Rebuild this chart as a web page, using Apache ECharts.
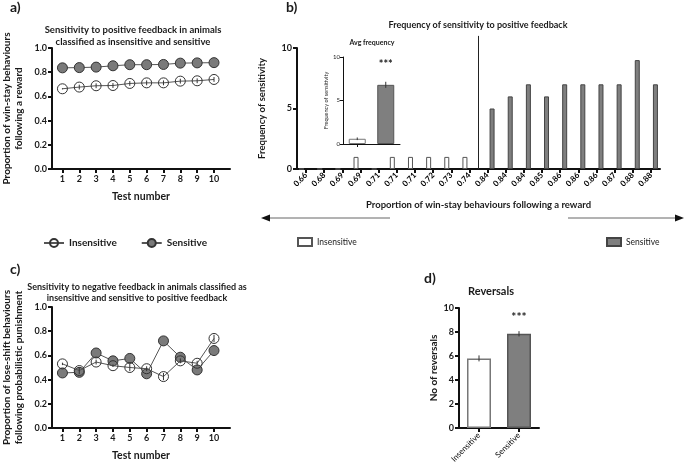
<!DOCTYPE html>
<html>
<head>
<meta charset="utf-8">
<script src="https://cdn.jsdelivr.net/npm/echarts@6/dist/echarts.min.js"></script>
<style>
html, body { margin: 0; padding: 0; background: #fff; }
#main { width: 685px; height: 469px; }
</style>
</head>
<body>
<div id="main"></div>
<script>
// panel a / c : per test session
const testNums = [1, 2, 3, 4, 5, 6, 7, 8, 9, 10]
const winStayInsens = [0.663, 0.677, 0.688, 0.69, 0.707, 0.712, 0.712, 0.726, 0.729, 0.74]
const winStaySens = [0.836, 0.838, 0.842, 0.853, 0.862, 0.862, 0.864, 0.875, 0.877, 0.879]
const winStayInsensErr = [0.005, 0.02, 0.02, 0.02, 0.02, 0.02, 0.02, 0.02, 0.02, 0.02]
const loseShiftInsens = [0.53, 0.475, 0.545, 0.515, 0.5, 0.49, 0.425, 0.555, 0.535, 0.74]
const loseShiftSens = [0.455, 0.46, 0.62, 0.555, 0.575, 0.448, 0.72, 0.585, 0.48, 0.64]
const loseShiftInsensErr = [0.01, 0.03, 0.02, 0.01, 0.03, 0.02, 0.03, 0.02, 0.02, 0.03]

// panel b : histogram
const histLabels = ['0.66', '0.68', '0.69', '0.69', '0.71', '0.71', '0.71', '0.72', '0.73', '0.74',
    '0.84', '0.84', '0.84', '0.85', '0.86', '0.86', '0.86', '0.87', '0.88', '0.88']
const histInsens = [0, 0, 0, 1, 0, 1, 1, 1, 1, 1]
const histSens = [5, 6, 7, 6, 7, 7, 7, 7, 9, 7]
const groupNames = ['Insensitive', 'Sensitive']
const avgFreq = [0.6, 6.8]
const avgFreqErr = [0.15, 0.35]

// panel d
const reversals = [5.8, 7.85]
const reversalsErr = [0.25, 0.22]

const FONT = 'Lato'
const INK = '#1a1a1a'

function errBar(params, api) {
    const x = api.value(0), y = api.value(1), e = api.value(2)
    const p1 = api.coord([x, y - e])
    const p2 = api.coord([x, y + e])
    return {
        type: 'line',
        shape: { x1: p1[0], y1: p1[1], x2: p2[0], y2: p2[1] },
        style: { stroke: '#333', lineWidth: 1 }
    }
}

function axisBase(extra) {
    return Object.assign({
        axisLine: { show: true, lineStyle: { color: '#111', width: 2 } },
        axisTick: { show: true, length: 4, lineStyle: { color: '#111', width: 2 } },
        splitLine: { show: false },
        axisLabel: { color: INK, fontFamily: FONT, fontWeight: 'bold', fontSize: 9, margin: 5 },
        nameTextStyle: { color: INK, fontFamily: FONT, fontWeight: 'bold', fontSize: 10.5 }
    }, extra)
}

const chart = echarts.init(document.getElementById('main'))

const lineSeries = (name, xi, vals, hollow) => ({
    name: name,
    type: 'line',
    xAxisIndex: xi, yAxisIndex: xi,
    data: testNums.map((t, i) => [t, vals[i]]),
    symbol: 'circle',
    symbolSize: 10,
    lineStyle: { color: '#555', width: 1 },
    itemStyle: hollow
        ? { color: 'rgba(255,255,255,0)', borderColor: '#333', borderWidth: 1 }
        : { color: '#7a7a7a', borderColor: '#333', borderWidth: 1 },
    z: hollow ? 3 : 2
})

chart.setOption({
    backgroundColor: '#fff',
    animation: false,
    textStyle: { fontFamily: FONT },
    title: [
        { text: 'a)', left: 10, top: 0, padding: 0, textStyle: { fontSize: 14, fontWeight: 'bold', color: INK, fontFamily: FONT } },
        { text: 'Sensitivity to positive feedback in animals\nclassified as insensitive and sensitive', left: 133, top: 24, padding: 0, textAlign: 'center',
            textStyle: { fontSize: 9.5, fontWeight: 'bold', lineHeight: 12, color: INK, fontFamily: FONT } },
        { text: 'b)', left: 286, top: 0, padding: 0, textStyle: { fontSize: 14, fontWeight: 'bold', color: INK, fontFamily: FONT } },
        { text: 'Frequency of sensitivity to positive feedback', left: 478, top: 21, padding: 0, textAlign: 'center',
            textStyle: { fontSize: 9, fontWeight: 'bold', color: INK, fontFamily: FONT } },
        { text: 'Avg frequency', left: 372, top: 39, padding: 0, textAlign: 'center',
            textStyle: { fontSize: 7, fontWeight: 'bold', color: INK, fontFamily: FONT } },
        { text: 'c)', left: 10, top: 262, padding: 0, textStyle: { fontSize: 14, fontWeight: 'bold', color: INK, fontFamily: FONT } },
        { text: 'Sensitivity to negative feedback in animals classified as\ninsensitive and sensitive to positive feedback', left: 137, top: 282, padding: 0, textAlign: 'center',
            textStyle: { fontSize: 9, fontWeight: 'bold', lineHeight: 11, color: INK, fontFamily: FONT } },
        { text: 'd)', left: 424, top: 271, padding: 0, textStyle: { fontSize: 14, fontWeight: 'bold', color: INK, fontFamily: FONT } },
        { text: 'Reversals', left: 491, top: 286, padding: 0, textAlign: 'center',
            textStyle: { fontSize: 11, fontWeight: 'bold', color: INK, fontFamily: FONT } }
    ],
    legend: [
        { data: ['Insensitive', 'Sensitive'], left: 38, top: 233, itemWidth: 20, itemHeight: 10, itemGap: 24,
            textStyle: { fontSize: 10, fontWeight: 'bold', color: INK, fontFamily: FONT } },
        { data: ['Insensitive (b)'], left: 292, top: 232, itemWidth: 14, itemHeight: 8, icon: 'rect',
            formatter: n => n.replace(' (b)', ''), textStyle: { fontSize: 8.5, color: INK, fontFamily: FONT } },
        { data: ['Sensitive (b)'], left: 601, top: 232, itemWidth: 14, itemHeight: 8, icon: 'rect',
            formatter: n => n.replace(' (b)', ''), textStyle: { fontSize: 8.5, color: INK, fontFamily: FONT } }
    ],
    grid: [
        { left: 42, top: 48, width: 188, height: 121 },
        { left: 297, top: 48, width: 363, height: 121 },
        { left: 343, top: 57, width: 57, height: 87 },
        { left: 42, top: 307, width: 188, height: 121 },
        { left: 459, top: 308, width: 80, height: 120 }
    ],
    xAxis: [
        axisBase({ type: 'value', gridIndex: 0, min: 0.38, max: 10.95,
            name: 'Test number', nameLocation: 'middle', nameGap: 22,
            axisTick: { show: true, length: 4, customValues: testNums, lineStyle: { color: '#111', width: 2 } },
            axisLabel: { customValues: testNums, color: INK, fontFamily: FONT, fontWeight: 'bold', fontSize: 9, margin: 6 } }),
        axisBase({ type: 'category', gridIndex: 1, data: histLabels,
            name: 'Proportion of win-stay behaviours following a reward', nameLocation: 'middle', nameGap: 31,
            nameTextStyle: { color: INK, fontFamily: FONT, fontWeight: 'bold', fontSize: 9.5 },
            axisTick: { show: true, length: 4, alignWithLabel: true, lineStyle: { color: '#111', width: 2 } },
            axisLabel: { interval: 0, rotate: 45, color: '#000', fontFamily: FONT, fontWeight: 'bold', fontSize: 8, margin: 5 } }),
        axisBase({ type: 'category', gridIndex: 2, data: groupNames,
            axisLine: { show: true, lineStyle: { color: '#111', width: 1 } },
            axisTick: { show: true, length: 3, alignWithLabel: true, lineStyle: { color: '#111', width: 1 } },
            axisLabel: { show: false } }),
        axisBase({ type: 'value', gridIndex: 3, min: 0.38, max: 10.95,
            name: 'Test number', nameLocation: 'middle', nameGap: 22,
            axisTick: { show: true, length: 4, customValues: testNums, lineStyle: { color: '#111', width: 2 } },
            axisLabel: { customValues: testNums, color: INK, fontFamily: FONT, fontWeight: 'bold', fontSize: 9, margin: 6 } }),
        axisBase({ type: 'category', gridIndex: 4, data: groupNames,
            axisTick: { show: true, length: 4, alignWithLabel: true, lineStyle: { color: '#111', width: 2 } },
            axisLabel: { interval: 0, rotate: 45, color: '#000', fontFamily: FONT, fontSize: 8, margin: 6 } })
    ],
    yAxis: [
        axisBase({ type: 'value', gridIndex: 0, min: 0, max: 1, interval: 0.2,
            name: 'Proportion of win-stay behaviours\nfollowing a reward', nameLocation: 'middle', nameGap: 27,
            nameTextStyle: { color: INK, fontFamily: FONT, fontWeight: 'bold', fontSize: 10, lineHeight: 12 },
            axisLabel: { formatter: v => v.toFixed(1), color: INK, fontFamily: FONT, fontWeight: 'bold', fontSize: 9, margin: 5 } }),
        axisBase({ type: 'value', gridIndex: 1, min: 0, max: 10, interval: 5,
            name: 'Frequency of sensitivity', nameLocation: 'middle', nameGap: 30,
            nameTextStyle: { color: INK, fontFamily: FONT, fontWeight: 'bold', fontSize: 9.5 } }),
        axisBase({ type: 'value', gridIndex: 2, min: 0, max: 10, interval: 5,
            name: 'Frequency of sensitivity', nameLocation: 'middle', nameGap: 12,
            nameTextStyle: { color: INK, fontFamily: FONT, fontSize: 5.5 },
            axisLine: { show: true, lineStyle: { color: '#111', width: 1 } },
            axisTick: { show: true, length: 3, lineStyle: { color: '#111', width: 1 } },
            axisLabel: { color: INK, fontFamily: FONT, fontSize: 6, margin: 3 } }),
        axisBase({ type: 'value', gridIndex: 3, min: 0, max: 1, interval: 0.2,
            name: 'Proportion of lose-shift behaviours\nfollowing probabilistic punishment', nameLocation: 'middle', nameGap: 27,
            nameTextStyle: { color: INK, fontFamily: FONT, fontWeight: 'bold', fontSize: 10, lineHeight: 12 },
            axisLabel: { formatter: v => v.toFixed(1), color: INK, fontFamily: FONT, fontWeight: 'bold', fontSize: 9, margin: 5 } }),
        axisBase({ type: 'value', gridIndex: 4, min: 0, max: 10, interval: 2,
            name: 'No of reversals', nameLocation: 'middle', nameGap: 20,
            nameTextStyle: { color: INK, fontFamily: FONT, fontWeight: 'bold', fontSize: 10 } })
    ],
    series: [
        lineSeries('Insensitive', 0, winStayInsens, true),
        lineSeries('Sensitive', 0, winStaySens, false),
        {
            type: 'custom', xAxisIndex: 0, yAxisIndex: 0, renderItem: errBar, encode: { x: 0, y: 1 }, z: 4,
            data: testNums.map((t, i) => [t, winStayInsens[i], winStayInsensErr[i]])
        },
        {
            name: 'Insensitive (b)', type: 'bar', xAxisIndex: 1, yAxisIndex: 1,
            data: histInsens.concat(histSens.map(() => '-')),
            barWidth: 5, barGap: '80%',
            itemStyle: { color: '#fff', borderColor: '#555', borderWidth: 1 }
        },
        {
            name: 'Sensitive (b)', type: 'bar', xAxisIndex: 1, yAxisIndex: 1,
            data: histInsens.map(() => '-').concat(histSens),
            barWidth: 5, barGap: '80%',
            itemStyle: { color: '#7f7f7f', borderColor: '#444', borderWidth: 1 }
        },
        {
            type: 'bar', xAxisIndex: 2, yAxisIndex: 2, barWidth: 17,
            data: avgFreq.map((v, i) => ({
                value: v,
                itemStyle: i === 0
                    ? { color: '#fff', borderColor: '#777', borderWidth: 1 }
                    : { color: '#7f7f7f', borderColor: '#555', borderWidth: 1 },
                label: { show: i === 1, position: 'top', distance: 15, formatter: '***', fontSize: 11, fontWeight: 'bold', color: INK }
            }))
        },
        {
            type: 'custom', xAxisIndex: 2, yAxisIndex: 2, renderItem: errBar, encode: { x: 0, y: 1 }, z: 4,
            data: avgFreq.map((v, i) => [i, v, avgFreqErr[i]])
        },
        lineSeries('Insensitive', 3, loseShiftInsens, true),
        lineSeries('Sensitive', 3, loseShiftSens, false),
        {
            type: 'custom', xAxisIndex: 3, yAxisIndex: 3, renderItem: errBar, encode: { x: 0, y: 1 }, z: 4,
            data: testNums.map((t, i) => [t, loseShiftInsens[i], loseShiftInsensErr[i]])
        },
        {
            type: 'bar', xAxisIndex: 4, yAxisIndex: 4, barWidth: 24,
            data: reversals.map((v, i) => ({
                value: v,
                itemStyle: i === 0
                    ? { color: '#fff', borderColor: '#777', borderWidth: 1.5 }
                    : { color: '#7f7f7f', borderColor: '#555', borderWidth: 1.5 },
                label: { show: i === 1, position: 'top', distance: 11, formatter: '***', fontSize: 12, fontWeight: 'bold', color: INK }
            }))
        },
        {
            type: 'custom', xAxisIndex: 4, yAxisIndex: 4, renderItem: errBar, encode: { x: 0, y: 1 }, z: 4,
            data: reversals.map((v, i) => [i, v, reversalsErr[i]])
        }
    ]
})

// divider between the two groups of the histogram, halfway between category 9 and 10
const pA = chart.convertToPixel({ gridIndex: 1 }, [9, 0])
const pB = chart.convertToPixel({ gridIndex: 1 }, [10, 0])
const pTop = chart.convertToPixel({ gridIndex: 1 }, [10, 11])
const divX = (pA[0] + pB[0]) / 2

chart.setOption({
    graphic: [
        { type: 'line', shape: { x1: divX, y1: pTop[1], x2: divX, y2: pA[1] }, style: { stroke: '#222', lineWidth: 1 }, z: 10 },
        // arrows under panel b
        { type: 'line', shape: { x1: 268, y1: 218, x2: 390, y2: 218 }, style: { stroke: '#666', lineWidth: 1 } },
        { type: 'polygon', shape: { points: [[261, 218], [270, 214.5], [270, 221.5]] }, style: { fill: '#111' } },
        { type: 'line', shape: { x1: 568, y1: 218, x2: 676, y2: 218 }, style: { stroke: '#666', lineWidth: 1 } },
        { type: 'polygon', shape: { points: [[684, 218], [675, 214.5], [675, 221.5]] }, style: { fill: '#111' } }
    ]
})
</script>
</body>
</html>
